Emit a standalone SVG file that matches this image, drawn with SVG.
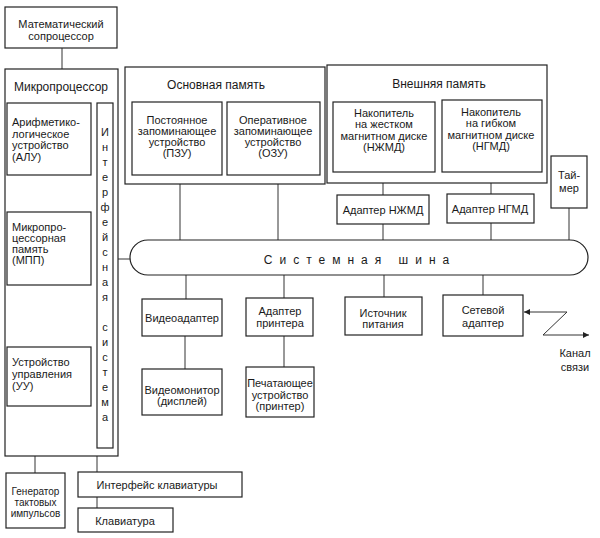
<svg xmlns="http://www.w3.org/2000/svg" width="600" height="538" viewBox="0 0 600 538">
<defs>
<style>
.box{fill:#fff;stroke:#222;stroke-width:1.2}
.ln{stroke:#333;stroke-width:1;fill:none}
.t{font-family:"Liberation Sans",Arial,sans-serif;font-size:11px;fill:#1a1a1a}
.c{text-anchor:middle}
.h{font-size:12px}
.s{font-size:10px}
</style>
<marker id="ah" viewBox="0 0 10 10" refX="10" refY="5" markerWidth="9" markerHeight="6" orient="auto" markerUnits="userSpaceOnUse">
<path d="M0,0 L10,5 L0,10 z" fill="#222"/>
</marker>
</defs>
<rect width="600" height="538" fill="#fff"/>
<g id="connectors">
<line class="ln" x1="62" y1="48" x2="62" y2="69"/>
<line class="ln" x1="180" y1="175" x2="180" y2="240"/>
<line class="ln" x1="278" y1="175" x2="278" y2="240"/>
<line class="ln" x1="383" y1="172" x2="383" y2="195"/>
<line class="ln" x1="383" y1="224" x2="383" y2="240"/>
<line class="ln" x1="491" y1="172" x2="491" y2="194"/>
<line class="ln" x1="491" y1="223" x2="491" y2="240"/>
<line class="ln" x1="569" y1="208" x2="569" y2="240"/>
<line class="ln" x1="118" y1="259" x2="130" y2="259"/>
<line class="ln" x1="186" y1="275" x2="186" y2="299"/>
<line class="ln" x1="284" y1="275" x2="284" y2="298"/>
<line class="ln" x1="384" y1="275" x2="384" y2="297"/>
<line class="ln" x1="483" y1="275" x2="483" y2="295"/>
<line class="ln" x1="185" y1="336" x2="185" y2="369"/>
<line class="ln" x1="284" y1="336" x2="284" y2="367"/>
<line class="ln" x1="35" y1="456" x2="35" y2="473"/>
<line class="ln" x1="97" y1="456" x2="97" y2="472"/>
<line class="ln" x1="97" y1="497" x2="97" y2="508"/>
<polyline class="ln" points="567,312 524,312" marker-end="url(#ah)"/>
<polyline class="ln" points="567,312 543,335 589,335" marker-end="url(#ah)"/>
</g>
<g id="math">
<rect class="box" x="5" y="7" width="112" height="41"/>
<text class="t c" x="61" y="28">Математический</text>
<text class="t c" x="61" y="40">сопроцессор</text>
</g>
<g id="micro">
<rect class="box" x="5" y="69" width="113" height="387"/>
<text class="t c h" x="61" y="91">Микропроцессор</text>
</g>
<g id="alu">
<rect class="box" x="7" y="103" width="84" height="72"/>
<text class="t" x="12" y="126">Арифметико-</text>
<text class="t" x="12" y="137.5">логическое</text>
<text class="t" x="12" y="149">устройство</text>
<text class="t" x="12" y="160.5">(АЛУ)</text>
</g>
<g id="mpp">
<rect class="box" x="7" y="212" width="84" height="73"/>
<text class="t" x="12" y="231">Микропро-</text>
<text class="t" x="12" y="242">цессорная</text>
<text class="t" x="12" y="253">память</text>
<text class="t" x="12" y="264">(МПП)</text>
</g>
<g id="uu">
<rect class="box" x="7" y="347" width="84" height="59"/>
<text class="t" x="12" y="366">Устройство</text>
<text class="t" x="12" y="378">управления</text>
<text class="t" x="12" y="390">(УУ)</text>
</g>
<g id="iface">
<rect class="box" x="97" y="103" width="16" height="345"/>
<text class="t c" x="105" y="136">И</text>
<text class="t c" x="105" y="151">н</text>
<text class="t c" x="105" y="166">т</text>
<text class="t c" x="105" y="181">е</text>
<text class="t c" x="105" y="196">р</text>
<text class="t c" x="105" y="211">ф</text>
<text class="t c" x="105" y="226">е</text>
<text class="t c" x="105" y="241">й</text>
<text class="t c" x="105" y="256">с</text>
<text class="t c" x="105" y="271">н</text>
<text class="t c" x="105" y="286">а</text>
<text class="t c" x="105" y="301">я</text>
<text class="t c" x="105" y="331">с</text>
<text class="t c" x="105" y="346">и</text>
<text class="t c" x="105" y="361">с</text>
<text class="t c" x="105" y="376">т</text>
<text class="t c" x="105" y="391">е</text>
<text class="t c" x="105" y="406">м</text>
<text class="t c" x="105" y="421">а</text>
</g>
<g id="mainmem">
<rect class="box" x="125" y="67" width="200" height="117"/>
<text class="t c h" x="216" y="89">Основная память</text>
</g>
<g id="rom">
<rect class="box" x="132" y="102" width="90" height="73"/>
<text class="t c" x="177" y="124">Постоянное</text>
<text class="t c" x="177" y="135">запоминающее</text>
<text class="t c" x="177" y="146">устройство</text>
<text class="t c" x="177" y="157">(ПЗУ)</text>
</g>
<g id="ram">
<rect class="box" x="227" y="102" width="93" height="73"/>
<text class="t c" x="273" y="124">Оперативное</text>
<text class="t c" x="273" y="135">запоминающее</text>
<text class="t c" x="273" y="146">устройство</text>
<text class="t c" x="273" y="157">(ОЗУ)</text>
</g>
<g id="extmem">
<rect class="box" x="327" y="65" width="220" height="118"/>
<text class="t c h" x="439" y="88">Внешняя память</text>
</g>
<g id="hdd">
<rect class="box" x="333" y="102" width="102" height="70"/>
<text class="t c" x="384" y="117">Накопитель</text>
<text class="t c" x="384" y="128">на жестком</text>
<text class="t c" x="384" y="139.5">магнитном диске</text>
<text class="t c" x="384" y="151">(НЖМД)</text>
</g>
<g id="fdd">
<rect class="box" x="442" y="100" width="100" height="72"/>
<text class="t c" x="491" y="116">Накопитель</text>
<text class="t c" x="491" y="127">на гибком</text>
<text class="t c" x="491" y="138.5">магнитном диске</text>
<text class="t c" x="491" y="150">(НГМД)</text>
</g>
<g id="hddadapter">
<rect class="box" x="337" y="195" width="92" height="29"/>
<text class="t c" x="383" y="214">Адаптер НЖМД</text>
</g>
<g id="fddadapter">
<rect class="box" x="447" y="194" width="87" height="29"/>
<text class="t c" x="490" y="213">Адаптер НГМД</text>
</g>
<g id="timer">
<rect class="box" x="551" y="156" width="36" height="52"/>
<text class="t c" x="569" y="179">Тай-</text>
<text class="t c" x="569" y="192">мер</text>
</g>
<g id="bus">
<rect class="box" x="130" y="240" width="458" height="35" rx="18" ry="17.5"/>
<text class="t c h" x="360" y="264" style="letter-spacing:7px">Системная шина</text>
</g>
<g id="video">
<rect class="box" x="142" y="299" width="80" height="37"/>
<text class="t c" x="182" y="322">Видеоадаптер</text>
</g>
<g id="monitor">
<rect class="box" x="142" y="369" width="80" height="46"/>
<text class="t c" x="182" y="394">Видеомонитор</text>
<text class="t c" x="182" y="405">(дисплей)</text>
</g>
<g id="printadapter">
<rect class="box" x="246" y="298" width="67" height="38"/>
<text class="t c" x="280" y="315">Адаптер</text>
<text class="t c" x="280" y="327">принтера</text>
</g>
<g id="printer">
<rect class="box" x="246" y="367" width="68" height="50"/>
<text class="t c" x="280" y="387">Печатающее</text>
<text class="t c" x="280" y="399">устройство</text>
<text class="t c" x="280" y="410">(принтер)</text>
</g>
<g id="power">
<rect class="box" x="345" y="297" width="77" height="38"/>
<text class="t c" x="383" y="317">Источник</text>
<text class="t c" x="383" y="328">питания</text>
</g>
<g id="net">
<rect class="box" x="443" y="295" width="80" height="41"/>
<text class="t c" x="483" y="314">Сетевой</text>
<text class="t c" x="483" y="327">адаптер</text>
</g>
<g id="channel">
<text class="t c" x="575" y="357">Канал</text>
<text class="t c" x="575" y="371">связи</text>
</g>
<g id="gen">
<rect class="box" x="6" y="473" width="59" height="55"/>
<text class="t c s" x="35.5" y="495">Генератор</text>
<text class="t c s" x="35.5" y="506">тактовых</text>
<text class="t c s" x="35.5" y="517">импульсов</text>
</g>
<g id="kbdiface">
<rect class="box" x="78" y="472" width="164" height="25"/>
<text class="t c" x="157" y="489">Интерфейс клавиатуры</text>
</g>
<g id="kbd">
<rect class="box" x="78" y="508" width="95" height="24"/>
<text class="t c" x="125" y="525">Клавиатура</text>
</g>
</svg>
